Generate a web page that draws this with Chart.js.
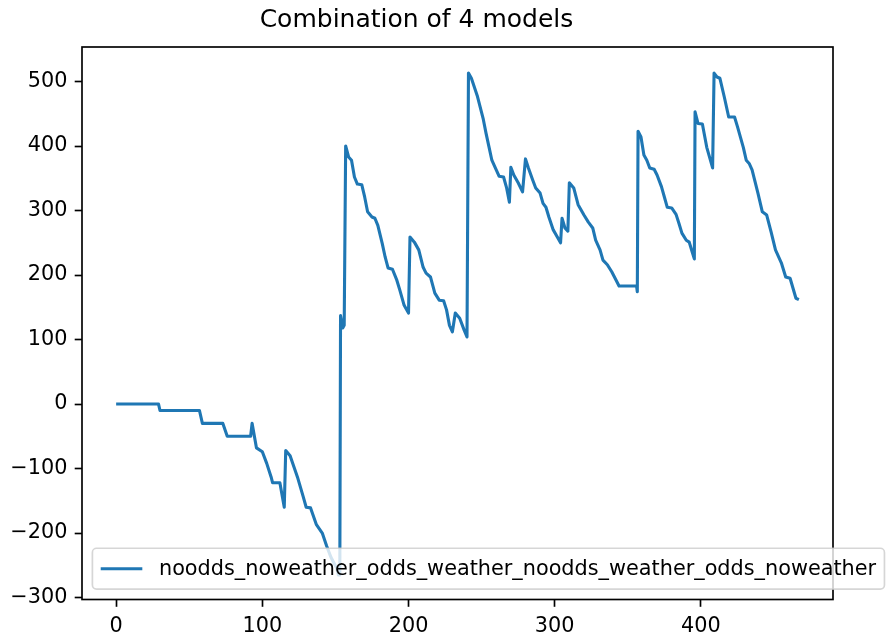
<!DOCTYPE html>
<html>
<head>
<meta charset="utf-8">
<title>Combination of 4 models</title>
<script src="https://cdn.jsdelivr.net/npm/chart.js@4/dist/chart.umd.min.js"></script>
<style>
    body { margin: 0; background: #fff; }
    canvas { display: block; }
</style>
</head>
<body>
<canvas id="chart" width="890" height="641"></canvas>
<script>
const chartTitle = 'Combination of 4 models';
const seriesLabel = 'noodds_noweather_odds_weather_noodds_weather_odds_noweather';
const xTicks = [0, 100, 200, 300, 400];
const yTicks = [-300, -200, -100, 0, 100, 200, 300, 400, 500];

// vertices of the running total
const xValues = [
    0, 29, 30, 57, 59, 73, 76, 92, 93, 96, 100, 103, 106, 107, 112, 115,
    116, 119, 122, 124, 128, 130, 133, 137, 141, 144, 147, 151, 152, 153,
    153.5, 155, 156, 157, 159, 161, 163, 165, 168, 170, 172, 175, 177, 179,
    182, 184, 186, 189, 192, 194, 197, 200, 201, 204, 207, 210, 212, 215,
    218, 221, 224, 226, 228, 230, 232, 235, 238, 240, 241, 243, 247, 251,
    253, 255, 257, 260, 262, 265, 267, 269, 270, 272, 275, 278, 280, 282,
    285, 287, 290, 292, 294, 296, 299, 301, 304, 305, 307, 309, 310, 313,
    316, 320, 323, 326, 328, 331, 333, 336, 339, 342, 344, 356, 356.5, 357,
    359, 361, 363, 365, 368, 370, 373, 375, 377, 380, 383, 385, 387, 390,
    392, 394, 395.5, 396, 398, 401, 404, 408, 409, 411, 413, 416, 419, 423,
    425, 429, 431, 433, 435, 439, 442, 445, 448, 451, 455, 458, 461, 465, 467
];
const yValues = [
    0, 0, -10, -10, -30, -30, -50, -50, -30, -68, -74, -92, -113, -122, -122, -160,
    -72, -80, -100, -113, -144, -160, -161, -187, -200, -220, -238, -255, -265, -265,
    137, 118, 122, 400, 383, 378, 352, 341, 340, 321, 298, 290, 288, 277,
    249, 228, 211, 209, 192, 177, 153, 141, 259, 251, 239, 212, 203, 197,
    172, 161, 160, 146, 122, 112, 141, 133, 115, 104, 513, 505, 478, 443,
    420, 399, 378, 363, 353, 352, 336, 313, 367, 355, 343, 329, 380, 366,
    347, 335, 327, 311, 305, 290, 270, 262, 250, 288, 273, 268, 343, 335,
    309, 293, 282, 273, 254, 239, 223, 216, 205, 192, 183, 183, 174, 423,
    414, 386, 378, 366, 364, 355, 337, 321, 305, 304, 294, 280, 265, 254,
    251, 236, 225, 453, 435, 434, 398, 366, 513, 507, 505, 476, 445, 445,
    430, 398, 378, 373, 363, 327, 298, 293, 267, 239, 219, 197, 195, 164, 162
];

const lineColor = '#1f77b4';
const fontFamily = "'DejaVu Sans', sans-serif";

function tickText(v) {
    return v < 0 ? '\u2212' + Math.abs(v) : String(v);
}

// box round the plot, like the matplotlib spines
const frameBox = {
    id: 'frameBox',
    afterDatasetsDraw(chart) {
        const a = chart.chartArea;
        const ctx = chart.ctx;
        ctx.save();
        ctx.strokeStyle = '#000';
        ctx.lineWidth = 1.67;
        ctx.strokeRect(a.left, a.top, a.right - a.left, a.bottom - a.top);
        ctx.restore();
    }
};

// legend sits inside the axes at the lower left and runs past the right edge
const innerLegend = {
    id: 'innerLegend',
    afterDraw(chart) {
        const ctx = chart.ctx;
        const a = chart.chartArea;
        const ds = chart.data.datasets[0];
        const fs = 20.8;
        ctx.save();
        ctx.font = fs + 'px ' + fontFamily;
        const textW = ctx.measureText(ds.label).width;
        const pad = 0.4 * fs;
        const handle = 2.0 * fs;
        const gap = 0.8 * fs;
        const w = pad + handle + gap + textW + pad;
        const h = 2 * pad + 24.2;
        const x = a.left + 0.5 * fs;
        const y = a.bottom - 0.5 * fs - h;
        const r = 0.2 * fs;

        ctx.beginPath();
        ctx.roundRect(x, y, w, h, r);
        ctx.fillStyle = 'rgba(255, 255, 255, 0.8)';
        ctx.fill();
        ctx.strokeStyle = 'rgba(204, 204, 204, 0.8)';
        ctx.lineWidth = 1.67;
        ctx.stroke();

        const cy = y + h / 2;
        ctx.beginPath();
        ctx.moveTo(x + pad, cy);
        ctx.lineTo(x + pad + handle, cy);
        ctx.strokeStyle = ds.borderColor;
        ctx.lineWidth = ds.borderWidth;
        ctx.stroke();

        ctx.fillStyle = '#000';
        ctx.textBaseline = 'middle';
        ctx.textAlign = 'left';
        ctx.fillText(ds.label, x + pad + handle + gap, cy + 1);
        ctx.restore();
    }
};

const ctx = document.getElementById('chart').getContext('2d');

new Chart(ctx, {
    type: 'line',
    data: {
        datasets: [{
            label: seriesLabel,
            data: xValues.map((x, i) => ({ x: x, y: yValues[i] })),
            borderColor: lineColor,
            backgroundColor: lineColor,
            borderWidth: 3.1,
            borderJoinStyle: 'round',
            pointRadius: 0,
            tension: 0,
            fill: false
        }]
    },
    options: {
        responsive: false,
        animation: false,
        devicePixelRatio: 1,
        layout: {
            padding: { left: 0, right: 57, top: 0, bottom: 0 }
        },
        scales: {
            x: {
                type: 'linear',
                min: -23.35,
                max: 490.35,
                afterBuildTicks: scale => {
                    scale.ticks = xTicks.map(v => ({ value: v }));
                },
                afterFit: scale => {
                    scale.height = 41.5;
                },
                grid: {
                    drawOnChartArea: false,
                    drawTicks: true,
                    tickLength: 7.3,
                    tickWidth: 1.67,
                    tickColor: '#000'
                },
                border: { display: false },
                ticks: {
                    padding: 7.3,
                    color: '#000',
                    maxRotation: 0,
                    autoSkip: false,
                    font: { family: fontFamily, size: 20.8 },
                    callback: v => tickText(v)
                }
            },
            y: {
                type: 'linear',
                min: -303,
                max: 553.5,
                afterBuildTicks: scale => {
                    scale.ticks = yTicks.map(v => ({ value: v }));
                },
                afterFit: scale => {
                    scale.width = 82;
                },
                grid: {
                    drawOnChartArea: false,
                    drawTicks: true,
                    tickLength: 7.3,
                    tickWidth: 1.67,
                    tickColor: '#000'
                },
                border: { display: false },
                ticks: {
                    padding: 7.3,
                    color: '#000',
                    autoSkip: false,
                    font: { family: fontFamily, size: 20.8 },
                    callback: v => tickText(v)
                }
            }
        },
        plugins: {
            title: {
                display: true,
                text: chartTitle,
                color: '#000',
                font: { family: fontFamily, size: 25, weight: 'normal' },
                padding: { top: 5, bottom: 12 }
            },
            legend: {
                display: false
            },
            tooltip: {
                enabled: false
            }
        }
    },
    plugins: [frameBox, innerLegend]
});
</script>
</body>
</html>
